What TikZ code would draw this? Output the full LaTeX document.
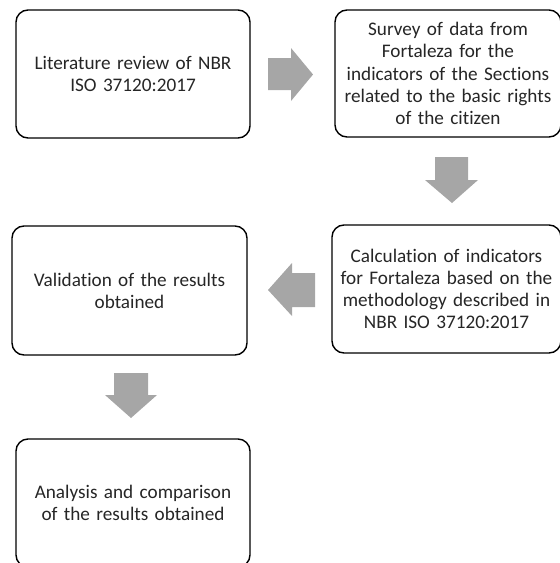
\documentclass[tikz,border=0pt]{standalone}
\usepackage{fontspec}
\setmainfont{Carlito}[Ligatures=NoCommon]
\begin{document}
\begin{tikzpicture}[x=1pt,y=-1pt,
  stepbox/.style={draw=black, line width=1.4pt, rounded corners=12pt, fill=white,
    align=center, inner sep=4pt, font=\fontsize{19.2}{22.2}\selectfont, text=black!85},
  blockarrow/.style={fill=black!35, draw=none}]
\useasboundingbox (0,0) rectangle (560,563);
\clip (0,0) rectangle (560,563);
% boxes
\node[stepbox, minimum width=234pt, minimum height=128pt, text width=226pt] (lit) at (133,74)
  {Literature review of NBR\\ISO 37120:2017};
\node[stepbox, minimum width=224pt, minimum height=127pt, text width=218pt] (survey) at (448,73.5)
  {Survey of data from\\Fortaleza for the\\indicators of the Sections\\related to the basic rights\\of the citizen};
\node[stepbox, minimum width=225pt, minimum height=128pt, text width=221pt] (calc) at (446.5,289)
  {Calculation of indicators\\for Fortaleza based on the\\methodology described in\\NBR ISO 37120:2017};
\node[stepbox, minimum width=235pt, minimum height=129pt, text width=226pt] (valid) at (129.5,290.5)
  {Validation of the results\\obtained};
\node[stepbox, minimum width=234pt, minimum height=128pt, text width=226pt] (anal) at (133,503)
  {Analysis and comparison\\of the results obtained};
% block arrows between steps
\fill[blockarrow] (268,58) -- (291,58) -- (291,48) -- (313,74.5) -- (291,101) -- (291,90) -- (268,90) -- cycle;
\fill[blockarrow] (435,157) -- (468,157) -- (468,180) -- (478,180) -- (452,203) -- (425,180) -- (435,180) -- cycle;
\fill[blockarrow] (315,273) -- (292,273) -- (292,263) -- (268,290) -- (292,316) -- (292,307) -- (315,307) -- cycle;
\fill[blockarrow] (114,373) -- (148,373) -- (148,395) -- (157,395) -- (131,418) -- (105,395) -- (114,395) -- cycle;
\end{tikzpicture}
\end{document}
